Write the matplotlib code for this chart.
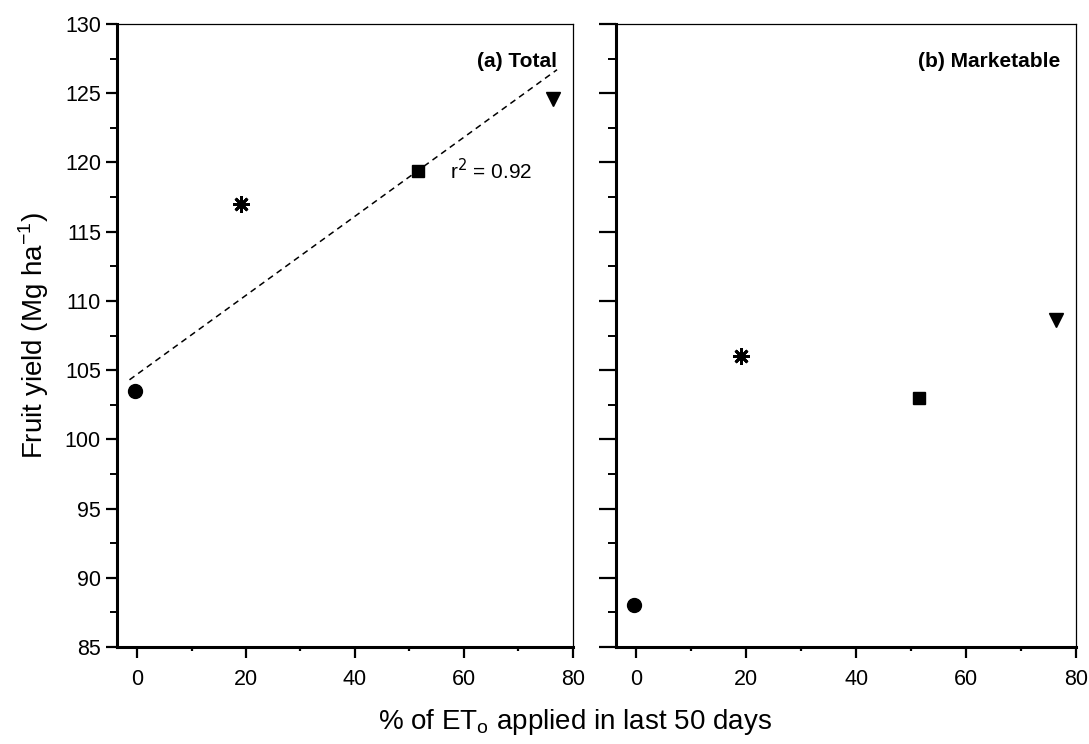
import matplotlib
matplotlib.use("Agg")
import matplotlib.pyplot as plt
from matplotlib.ticker import MultipleLocator

plt.rcParams['font.family'] = ['Liberation Sans', 'DejaVu Sans']

# Data
et_pct = [-0.4, 19.0, 51.5, 76.3]
total_yield = [103.5, 117.0, 119.4, 124.6]
marketable_yield = [88.0, 106.0, 103.0, 108.6]
markers = ['o', (8, 2, 0), 's', 'v']
marker_sizes = [10, 12, 9, 10]
fit_x = [-1.4, 77.1]
fit_y = [104.3, 126.7]
x_ticks = [0, 20, 40, 60, 80]
y_ticks = [85, 90, 95, 100, 105, 110, 115, 120, 125, 130]

fig = plt.figure(figsize=(10.89, 7.44), dpi=100)
ax1 = fig.add_axes([0.1074, 0.1304, 0.4186, 0.8373])
ax2 = fig.add_axes([0.5657, 0.1304, 0.4224, 0.8373])

for ax, yvals, title in [(ax1, total_yield, '(a) Total'), (ax2, marketable_yield, '(b) Marketable')]:
    for x, y, m, ms in zip(et_pct, yvals, markers, marker_sizes):
        ax.plot([x], [y], linestyle='none', marker=m, markersize=ms, color='black',
                markeredgewidth=2.0 if isinstance(m, tuple) else 1, zorder=3)
    ax.set_xlim(-3.7, 80)
    ax.set_ylim(85, 130)
    ax.set_xticks(x_ticks)
    ax.set_yticks(y_ticks)
    ax.xaxis.set_minor_locator(MultipleLocator(10))
    ax.yaxis.set_minor_locator(MultipleLocator(2.5))
    ax.tick_params(axis='both', which='major', direction='out', length=8, width=1.6, labelsize=15.5)
    ax.tick_params(axis='x', which='minor', direction='out', length=3, width=1.6)
    ax.tick_params(axis='y', which='minor', direction='out', length=5, width=1.4)
    ax.tick_params(axis='x', which='major', pad=8)
    ax.spines['left'].set_linewidth(2.2)
    ax.spines['bottom'].set_linewidth(2.2)
    ax.spines['top'].set_linewidth(0.9)
    ax.spines['right'].set_linewidth(0.9)
    ax.text(0.965, 0.955, title, transform=ax.transAxes, ha='right', va='top',
            fontsize=15, fontweight='bold')

ax2.tick_params(axis='y', which='major', length=12, labelleft=False)
ax2.tick_params(axis='y', which='minor', length=6)

ax1.plot(fit_x, fit_y, linestyle=(0, (4, 3)), color='black', linewidth=1.1, zorder=2)
ax1.text(57.5, 119.4, r'r$^{2}$ = 0.92', fontsize=15, va='center', ha='left')

ax1.set_ylabel(r'Fruit yield (Mg ha$^{\mathregular{-1}}$)', fontsize=20, labelpad=10)
fig.text(0.528, 0.03, r'% of ET$_{\mathregular{o}}$ applied in last 50 days', fontsize=20,
         ha='center', va='center')

fig.savefig('out.png', dpi=100)
